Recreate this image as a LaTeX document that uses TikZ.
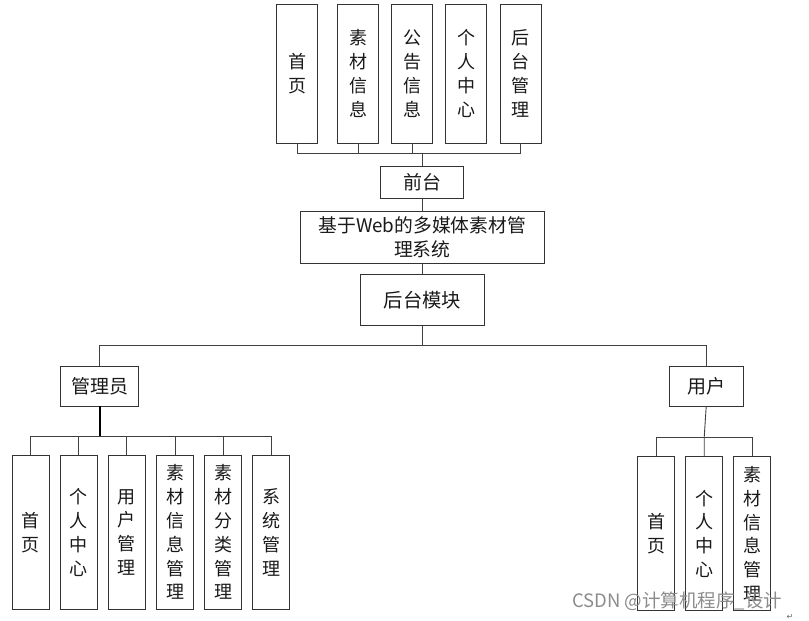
\documentclass[tikz,border=0pt]{standalone}
\usepackage{fontspec}
\setmainfont{Noto Sans CJK SC}
\newfontfamily\wmfont{Noto Sans CJK SC}
\newfontfamily\djv{DejaVu Sans}
\begin{document}
\begin{tikzpicture}[x=1pt,y=-1pt,
  box/.style={draw=black!80,line width=0.9pt,fill=white,inner sep=0pt,align=center,
    font=\fontsize{18}{23.8}\selectfont,text=black!90},
  vbox/.style={box,minimum width=41pt,minimum height=139pt},
  lbox/.style={box,minimum width=37pt,minimum height=154pt},
  hbox/.style={box,minimum height=40pt,font=\fontsize{19}{23}\selectfont},
  conn/.style={draw=black!75,line width=0.9pt},
  thickconn/.style={draw=black,line width=1.8pt}]
\useasboundingbox (0,0) rectangle (809,621);
% top row
\node[vbox] (t1) at (297,73.5) {首\\页};
\node[vbox] (t2) at (358,73.5) {素\\材\\信\\息};
\node[vbox] (t3) at (412.2,73.5) {公\\告\\信\\息};
\node[vbox] (t4) at (466.3,73.5) {个\\人\\中\\心};
\node[vbox] (t5) at (520.8,73.5) {后\\台\\管\\理};
\node[box,minimum width=83pt,minimum height=31.6pt,font=\fontsize{19}{23}\selectfont] (qt) at (422.3,182.5) {前台};
\node[box,minimum width=244pt,minimum height=51.6pt,font=\fontsize{18.8}{23.5}\selectfont] (sys) at (422.3,237.5) {基于Web的多媒体素材管\\理系统};
\node[box,minimum width=123.3pt,minimum height=51.7pt,font=\fontsize{19.3}{23}\selectfont] (mod) at (422.3,299.8) {后台模块};
\coordinate (bus1) at (422.3,153.3);
\draw[conn] (t1.south) |- (bus1);
\draw[conn] (t2.south) |- (bus1);
\draw[conn] (t3.south) |- (bus1);
\draw[conn] (t5.south) |- (bus1);
\draw[conn] (bus1) -- (qt.north);
\draw[conn] (qt.south) -- (sys.north);
\draw[conn] (sys.south) -- (mod.north);
% second level
\node[hbox,minimum width=78pt] (adm) at (99.7,386) {管理员};
\node[hbox,minimum width=74.3pt] (usr) at (706.2,386) {用户};
\coordinate (bus2) at (422.3,345);
\draw[conn] (mod.south) -- (bus2);
\draw[conn] (bus2) -| (adm.north);
\draw[conn] (bus2) -| (usr.north);
% admin children
\node[lbox] (a1) at (30.8,532.3) {首\\页};
\node[lbox] (a2) at (78.8,532.3) {个\\人\\中\\心};
\node[lbox] (a3) at (126.8,532.3) {用\\户\\管\\理};
\node[lbox] (a4) at (175,532.3) {素\\材\\信\\息\\管\\理};
\node[lbox] (a5) at (223,532.3) {素\\材\\分\\类\\管\\理};
\node[lbox] (a6) at (271,532.3) {系\\统\\管\\理};
\coordinate (bus3) at (99.7,436);
\draw[thickconn] (adm.south) -- (bus3);
\draw[conn] (bus3) -| (a1.north);
\draw[conn] (bus3) -| (a2.north);
\draw[conn] (bus3) -| (a3.north);
\draw[conn] (bus3) -| (a4.north);
\draw[conn] (bus3) -| (a5.north);
\draw[conn] (bus3) -| (a6.north);
% user children
\node[lbox] (u1) at (656,533.8) {首\\页};
\node[lbox] (u2) at (704.2,533.8) {个\\人\\中\\心};
\node[lbox] (u3) at (752.2,533.8) {素\\材\\信\\息\\管\\理};
\coordinate (bus4) at (704.2,437.3);
\draw[conn] (usr.south) -- (bus4) -- (u2.north);
\draw[conn] (bus4) -| (u1.north);
\draw[conn] (bus4) -| (u3.north);
% watermark
\node[font=\wmfont\fontsize{18.5}{20}\selectfont,text=black!45,inner sep=0pt,anchor=west] (wm) at (572,601) {CSDN @计算机程序\_设计};
\node[font=\djv\fontsize{8}{9}\selectfont,text=black!60,inner sep=0pt] (ret) at (790,617) {↵};
\end{tikzpicture}
\end{document}
